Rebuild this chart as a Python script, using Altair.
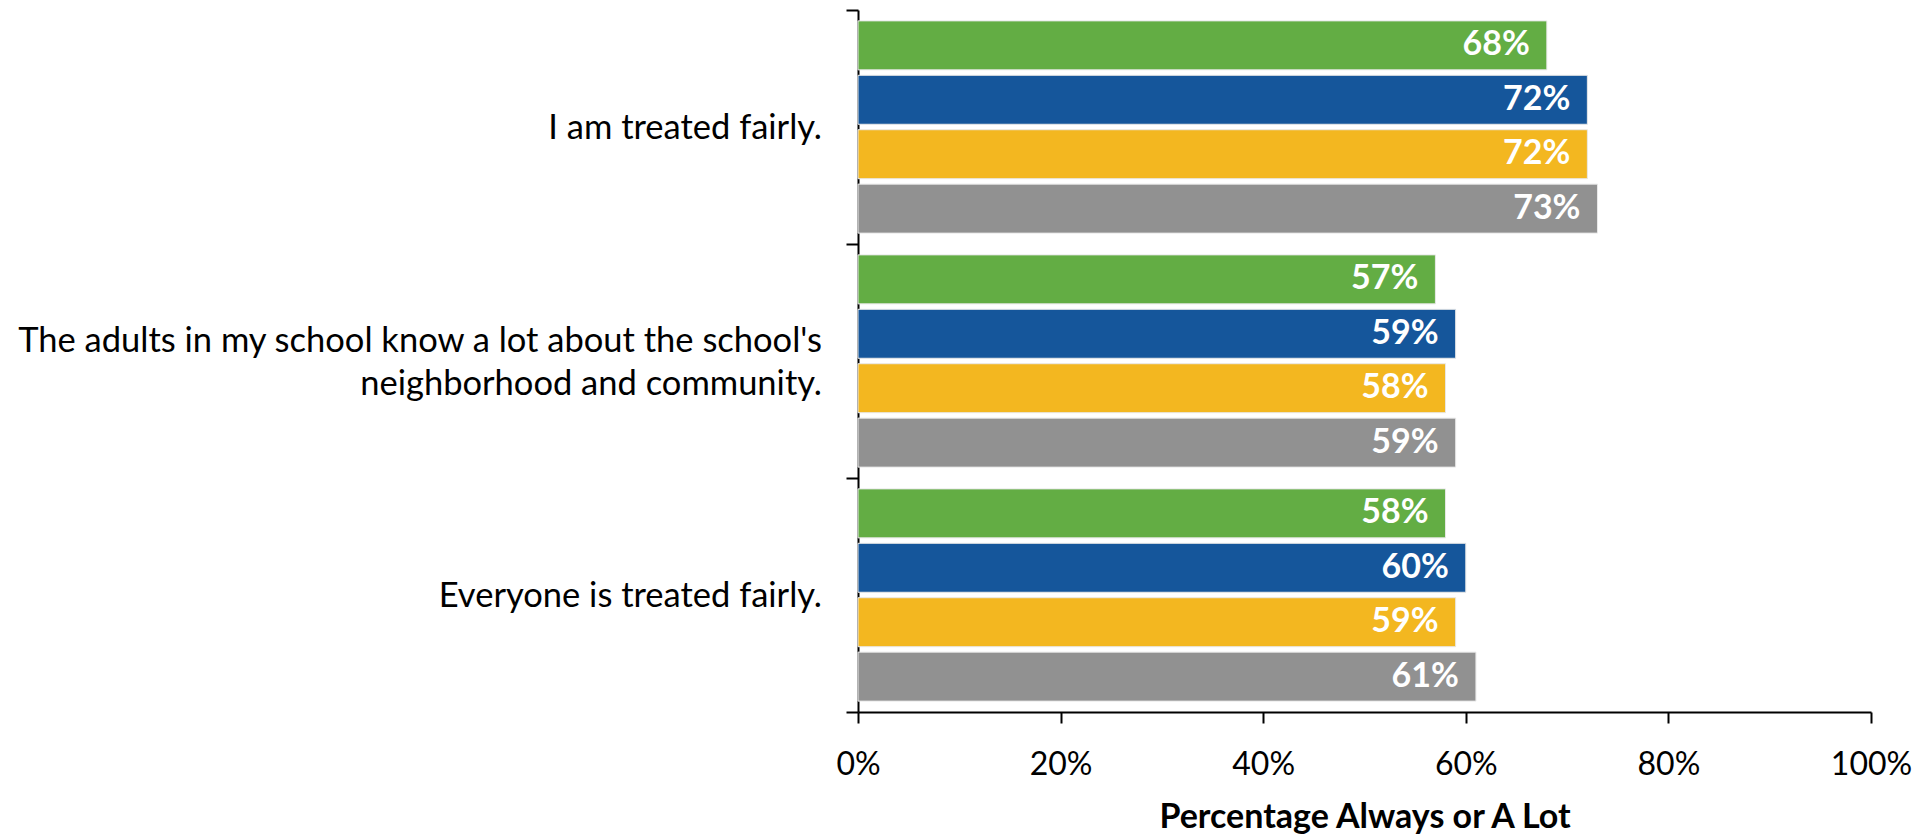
import altair as alt
import pandas as pd

categories = [
    "I am treated fairly.",
    "The adults in my school know a lot about the school's neighborhood and community.",
    "Everyone is treated fairly.",
]
# how each category label is broken into lines
label_lines = [
    ["I am treated fairly."],
    ["The adults in my school know a lot about the school's", "neighborhood and community."],
    ["Everyone is treated fairly."],
]
series = ["Series 1", "Series 2", "Series 3", "Series 4"]
colors = ["#63AD44", "#15569B", "#F3B720", "#919191"]
values_fair_me = [68, 72, 72, 73]
values_adults = [57, 59, 58, 59]
values_everyone = [58, 60, 59, 61]
x_ticks = [0, 20, 40, 60, 80, 100]
x_title = "Percentage Always or A Lot"

rows = []
for cat, vals in zip(categories, [values_fair_me, values_adults, values_everyone]):
    for s, v in zip(series, vals):
        rows.append({"category": cat, "series": s, "value": v})
df = pd.DataFrame(rows)

lab_df = pd.DataFrame(
    {
        "category": categories,
        "label": ["\n".join(l) for l in label_lines],
        "nlines": [len(l) for l in label_lines],
    }
)

FONT = "Lato"

y_enc = alt.Y(
    "category:N",
    sort=categories,
    scale=alt.Scale(paddingInner=0, paddingOuter=0),
    axis=alt.Axis(
        title=None,
        labels=False,
        tickBand="extent",
        tickSize=12,
        tickColor="#000000",
        domainColor="#000000",
        domainWidth=2,
        tickWidth=2,
        grid=False,
    ),
)
yoff = alt.YOffset(
    "series:N", sort=series, scale=alt.Scale(paddingInner=0.1, paddingOuter=0.2)
)
x_enc = alt.X(
    "value:Q",
    scale=alt.Scale(domain=[0, 100], nice=False),
    axis=alt.Axis(
        title=x_title,
        titleFont=FONT,
        titleFontSize=34,
        titleFontWeight="bold",
        titleColor="#000000",
        titlePadding=20,
        values=x_ticks,
        labelExpr="datum.value + '%'",
        labelFont=FONT,
        labelFontSize=32,
        labelColor="#000000",
        labelPadding=26,
        labelFlush=False,
        tickSize=11,
        tickColor="#000000",
        domainColor="#000000",
        domainWidth=2,
        tickWidth=2,
        grid=False,
    ),
)
color_enc = alt.Color("series:N", sort=series, scale=alt.Scale(domain=series, range=colors), legend=None)

base = alt.Chart(df)
bars = base.mark_bar(stroke="#e8e8e8", strokeWidth=1).encode(y=y_enc, yOffset=yoff, x=x_enc, color=color_enc)
text = base.mark_text(
    align="right", baseline="middle", dx=-17, font=FONT, fontSize=34, fontWeight="bold", color="white"
).encode(
    y=alt.Y("category:N", sort=categories),
    yOffset=alt.YOffset("series:N", sort=series),
    x=alt.X("value:Q"),
    text=alt.Text("label:N"),
).transform_calculate(label="datum.value + '%'")

lab_base = alt.Chart(lab_df)
lab_single = lab_base.transform_filter("datum.nlines == 1").mark_text(
    align="right", baseline="middle", dy=2, font=FONT, fontSize=34.5, color="#000000", lineBreak="\n", lineHeight=43
).encode(y=alt.Y("category:N", sort=categories), x=alt.value(-36), text="label:N")
lab_multi = lab_base.transform_filter("datum.nlines > 1").mark_text(
    align="right", baseline="line-bottom", dy=2, font=FONT, fontSize=34.5, color="#000000", lineBreak="\n", lineHeight=43
).encode(y=alt.Y("category:N", sort=categories), x=alt.value(-36), text="label:N")

chart = (
    alt.layer(bars, text, lab_single, lab_multi)
    .properties(
        width=1013,
        height=702,
        background="white",
        autosize=alt.AutoSizeParams(type="none"),
        padding={"left": 850, "top": 2, "right": 45, "bottom": 122},
    )
    .configure_view(stroke=None, strokeWidth=0)
)

chart.save("out.html", embed_options={"renderer": "svg", "actions": False})
